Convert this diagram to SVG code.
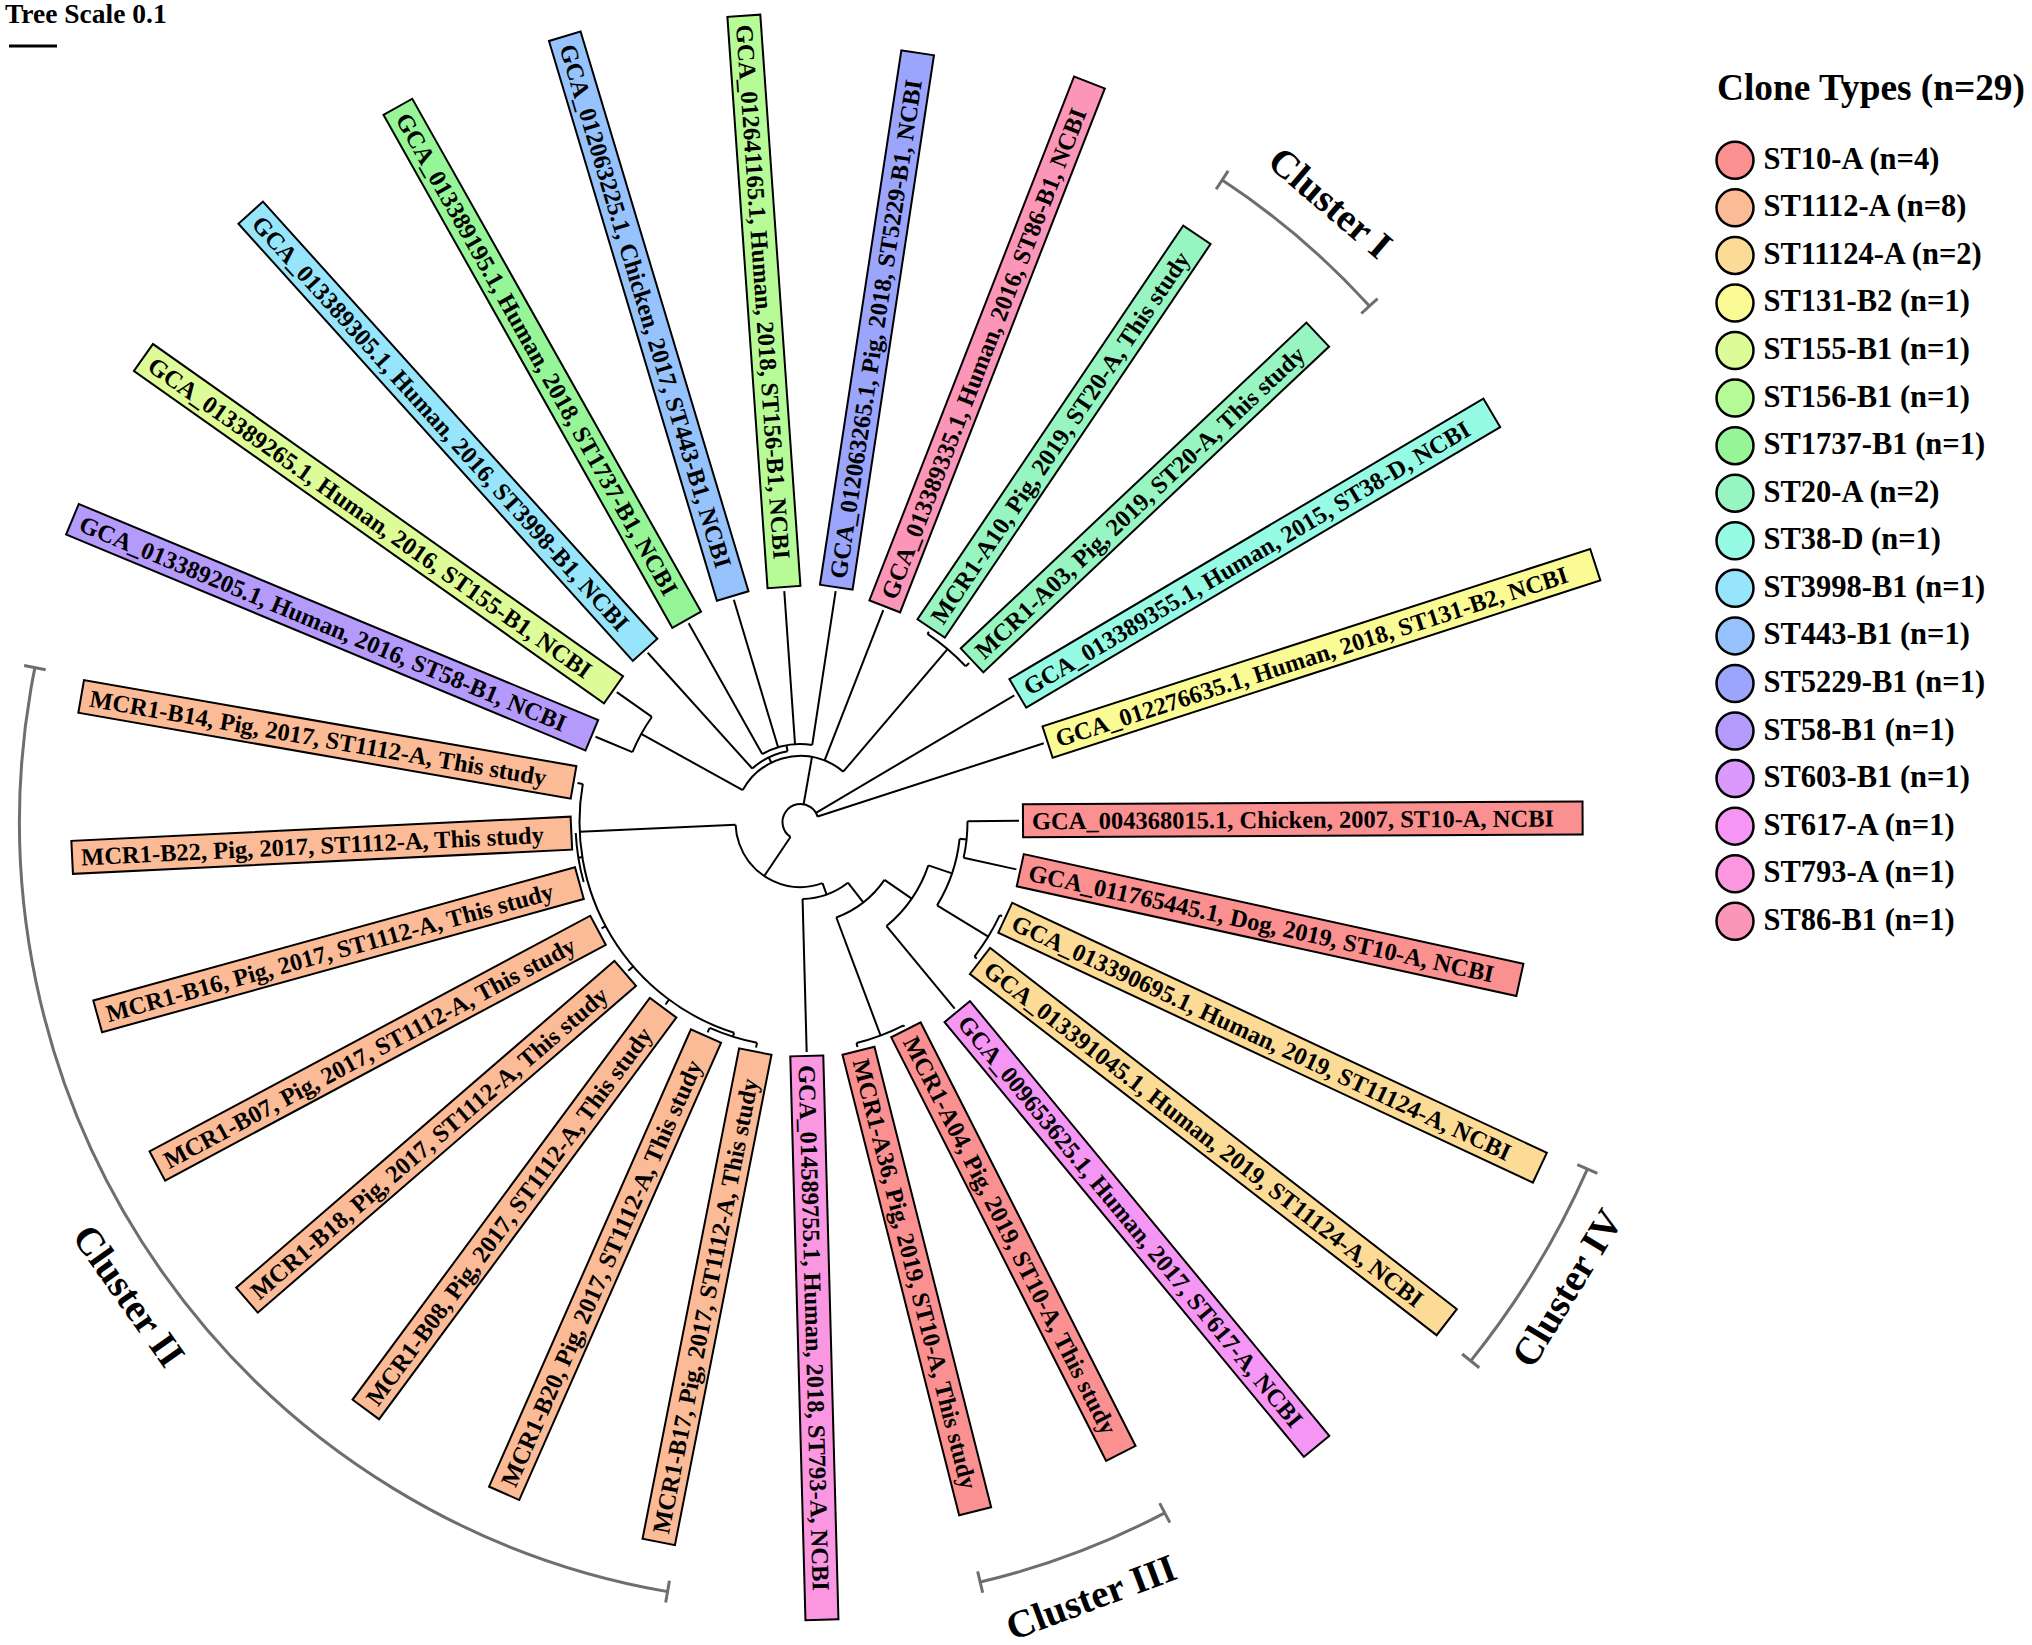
<svg xmlns="http://www.w3.org/2000/svg" width="2032" height="1645" viewBox="0 0 2032 1645">
<style>
.tl{stroke:#000;stroke-width:2;fill:none}
.box{stroke:#000;stroke-width:2}
.lbl{font-family:"Liberation Serif","Times New Roman",serif;font-weight:bold;font-size:24.5px;fill:#000}
.br{stroke:#6e6e6e;stroke-width:3;fill:none}
.cl{font-family:"Liberation Serif","Times New Roman",serif;font-weight:bold;font-size:39px;fill:#000;text-anchor:middle}
.lg{font-family:"Liberation Serif","Times New Roman",serif;font-weight:bold;font-size:30.5px;fill:#000}
.lt{font-family:"Liberation Serif","Times New Roman",serif;font-weight:bold;font-size:37.3px;fill:#000}
.lc{stroke:#000;stroke-width:2.5}
.c10{fill:#FA9090}.c1112{fill:#FBBB96}.c11124{fill:#FCDB96}.c131{fill:#FBFB96}.c155{fill:#DDFB96}.c156{fill:#B7FB96}.c1737{fill:#96F596}.c20{fill:#96F5C0}.c38{fill:#96FBE5}.c3998{fill:#96E5FB}.c443{fill:#96C3FB}.c5229{fill:#9AA5FB}.c58{fill:#B49AFB}.c603{fill:#D99AFB}.c617{fill:#F596F5}.c793{fill:#FB96E0}.c86{fill:#FB96B8}
</style>
<rect width="2032" height="1645" fill="#fff"/>
<g id="scale">
<text x="5" y="23" style="font-family:'Liberation Serif',serif;font-weight:bold;font-size:27.5px">Tree Scale 0.1</text>
<line x1="9" y1="46" x2="57" y2="46" stroke="#000" stroke-width="3"/>
</g>
<g id="connectors" class="tl" transform="translate(800.5,822)">
<circle r="18" transform="rotate(123.9)" stroke-dasharray="68.54 9999"/>
<circle r="65" transform="rotate(70.23)" stroke-dasharray="121.69 9999"/>
<circle r="77" transform="rotate(52)" stroke-dasharray="49.0 9999"/>
<circle r="102" transform="rotate(34.57)" stroke-dasharray="62.08 9999"/>
<circle r="135" transform="rotate(18.72)" stroke-dasharray="74.69 9999"/>
<circle r="160" transform="rotate(6.04)" stroke-dasharray="70.82 9999"/>
<circle r="167" transform="rotate(-0.3)" stroke-dasharray="36.96 9999"/>
<circle r="220" transform="rotate(25.06)" stroke-dasharray="48.69 9999"/>
<circle r="228" transform="rotate(63.1)" stroke-dasharray="50.46 9999"/>
<circle r="221" transform="rotate(107.48)" stroke-dasharray="317.91 9999"/>
<circle r="225" transform="rotate(164.54)" stroke-dasharray="49.79 9999"/>
<circle r="225" transform="rotate(101.14)" stroke-dasharray="49.79 9999"/>
<circle r="66" transform="rotate(208.92)" stroke-dasharray="116.85 9999"/>
<circle r="182" transform="rotate(202.58)" stroke-dasharray="40.28 9999"/>
<circle r="72" transform="rotate(227.94)" stroke-dasharray="39.84 9999"/>
<circle r="78" transform="rotate(240.62)" stroke-dasharray="51.79 9999"/>
<circle r="227" transform="rotate(304.02)" stroke-dasharray="50.24 9999"/>
<line x1="18" x2="65" transform="rotate(123.9)"/>
<line x1="18" x2="66" transform="rotate(280)"/>
<line x1="18" x2="248.5" transform="rotate(329.38)"/>
<line x1="18" x2="255.7" transform="rotate(342.06)"/>
<line x1="65" x2="77" transform="rotate(70.23)"/>
<line x1="65" x2="221" transform="rotate(177.5)"/>
<line x1="77" x2="230" transform="rotate(88.46)"/>
<line x1="77" x2="102" transform="rotate(52)"/>
<line x1="102" x2="228" transform="rotate(69.44)"/>
<line x1="228" x2="229.5" transform="rotate(63.1)"/>
<line x1="228" x2="232" transform="rotate(75.78)"/>
<line x1="102" x2="135" transform="rotate(34.57)"/>
<line x1="135" x2="242" transform="rotate(50.42)"/>
<line x1="135" x2="160" transform="rotate(18.72)"/>
<line x1="160" x2="167" transform="rotate(6.04)"/>
<line x1="160" x2="220" transform="rotate(31.4)"/>
<line x1="167" x2="218.5" transform="rotate(-0.3)"/>
<line x1="167" x2="221" transform="rotate(12.38)"/>
<line x1="220" x2="222.5" transform="rotate(25.06)"/>
<line x1="220" x2="223" transform="rotate(37.74)"/>
<line x1="221" x2="225" transform="rotate(170.88)"/>
<line x1="221" x2="225" transform="rotate(107.48)"/>
<line x1="225" x2="230" transform="rotate(101.14)"/>
<line x1="225" x2="230" transform="rotate(113.82)"/>
<line x1="221" x2="227" transform="rotate(126.5)"/>
<line x1="221" x2="227.6" transform="rotate(139.18)"/>
<line x1="221" x2="225.6" transform="rotate(151.86)"/>
<line x1="221" x2="226.4" transform="rotate(189.9)"/>
<line x1="66" x2="182" transform="rotate(208.92)"/>
<line x1="182" x2="222" transform="rotate(202.58)"/>
<line x1="182" x2="225" transform="rotate(215.26)"/>
<line x1="66" x2="72" transform="rotate(243.79)"/>
<line x1="72" x2="228" transform="rotate(227.94)"/>
<line x1="72" x2="78" transform="rotate(259.64)"/>
<line x1="78" x2="228" transform="rotate(240.62)"/>
<line x1="78" x2="232" transform="rotate(253.3)"/>
<line x1="78" x2="231.5" transform="rotate(265.98)"/>
<line x1="78" x2="233.5" transform="rotate(278.66)"/>
<line x1="66" x2="227.5" transform="rotate(291.34)"/>
<line x1="66" x2="227" transform="rotate(310.36)"/>
<line x1="227" x2="229.5" transform="rotate(304.02)"/>
<line x1="227" x2="231.7" transform="rotate(316.7)"/>
</g>
<g id="leaf01" transform="translate(800.5,822) rotate(-0.3)"><rect class="box c10" x="222.5" y="-16.5" width="559.6" height="33"/><text class="lbl" x="231.5" y="8.5">GCA_004368015.1, Chicken, 2007, ST10-A, NCBI</text></g>
<g id="leaf02" transform="translate(800.5,822) rotate(12.38)"><rect class="box c10" x="225" y="-16.5" width="511.5" height="33"/><text class="lbl" x="234" y="8.5">GCA_011765445.1, Dog, 2019, ST10-A, NCBI</text></g>
<g id="leaf03" transform="translate(800.5,822) rotate(25.06)"><rect class="box c11124" x="226" y="-16.5" width="590.2" height="33"/><text class="lbl" x="235" y="8.5">GCA_013390695.1, Human, 2019, ST11124-A, NCBI</text></g>
<g id="leaf04" transform="translate(800.5,822) rotate(37.74)"><rect class="box c11124" x="227" y="-16.5" width="590.2" height="33"/><text class="lbl" x="236" y="8.5">GCA_013391045.1, Human, 2019, ST11124-A, NCBI</text></g>
<g id="leaf05" transform="translate(800.5,822) rotate(50.42)"><rect class="box c617" x="246" y="-16.5" width="564" height="33"/><text class="lbl" x="255" y="8.5">GCA_009653625.1, Human, 2017, ST617-A, NCBI</text></g>
<g id="leaf06" transform="translate(800.5,822) rotate(63.1)"><rect class="box c10" x="233" y="-16.5" width="475" height="33"/><text class="lbl" x="242" y="8.5">MCR1-A04, Pig, 2019, ST10-A, This study</text></g>
<g id="leaf07" transform="translate(800.5,822) rotate(75.78)"><rect class="box c10" x="236" y="-16.5" width="475" height="33"/><text class="lbl" x="245" y="8.5">MCR1-A36, Pig, 2019, ST10-A, This study</text></g>
<g id="leaf08" transform="translate(800.5,822) rotate(88.46)"><rect class="box c793" x="234" y="-16.5" width="564" height="33"/><text class="lbl" x="243" y="8.5">GCA_014589755.1, Human, 2018, ST793-A, NCBI</text></g>
<g id="leaf09" transform="translate(800.5,822) rotate(281.14)"><rect class="box c1112" x="-733.8" y="-16.5" width="499.8" height="33"/><text class="lbl" x="-724.8" y="8.5">MCR1-B17, Pig, 2017, ST1112-A, This study</text></g>
<g id="leaf10" transform="translate(800.5,822) rotate(293.82)"><rect class="box c1112" x="-733.8" y="-16.5" width="499.8" height="33"/><text class="lbl" x="-724.8" y="8.5">MCR1-B20, Pig, 2017, ST1112-A, This study</text></g>
<g id="leaf11" transform="translate(800.5,822) rotate(306.5)"><rect class="box c1112" x="-730.8" y="-16.5" width="499.8" height="33"/><text class="lbl" x="-721.8" y="8.5">MCR1-B08, Pig, 2017, ST1112-A, This study</text></g>
<g id="leaf12" transform="translate(800.5,822) rotate(319.18)"><rect class="box c1112" x="-731.4" y="-16.5" width="499.8" height="33"/><text class="lbl" x="-722.4" y="8.5">MCR1-B18, Pig, 2017, ST1112-A, This study</text></g>
<g id="leaf13" transform="translate(800.5,822) rotate(331.86)"><rect class="box c1112" x="-729.4" y="-16.5" width="499.8" height="33"/><text class="lbl" x="-720.4" y="8.5">MCR1-B07, Pig, 2017, ST1112-A, This study</text></g>
<g id="leaf14" transform="translate(800.5,822) rotate(344.54)"><rect class="box c1112" x="-729.2" y="-16.5" width="499.8" height="33"/><text class="lbl" x="-720.2" y="8.5">MCR1-B16, Pig, 2017, ST1112-A, This study</text></g>
<g id="leaf15" transform="translate(800.5,822) rotate(357.22)"><rect class="box c1112" x="-729.2" y="-16.5" width="499.8" height="33"/><text class="lbl" x="-720.2" y="8.5">MCR1-B22, Pig, 2017, ST1112-A, This study</text></g>
<g id="leaf16" transform="translate(800.5,822) rotate(9.9)"><rect class="box c1112" x="-730.2" y="-16.5" width="499.8" height="33"/><text class="lbl" x="-721.2" y="8.5">MCR1-B14, Pig, 2017, ST1112-A, This study</text></g>
<g id="leaf17" transform="translate(800.5,822) rotate(22.58)"><rect class="box c58" x="-788.5" y="-16.5" width="562.5" height="33"/><text class="lbl" x="-779.5" y="8.5">GCA_013389205.1, Human, 2016, ST58-B1, NCBI</text></g>
<g id="leaf18" transform="translate(800.5,822) rotate(35.26)"><rect class="box c155" x="-804.7" y="-16.5" width="575.7" height="33"/><text class="lbl" x="-795.7" y="8.5">GCA_013389265.1, Human, 2016, ST155-B1, NCBI</text></g>
<g id="leaf19" transform="translate(800.5,822) rotate(47.94)"><rect class="box c3998" x="-820.7" y="-16.5" width="588.7" height="33"/><text class="lbl" x="-811.7" y="8.5">GCA_013389305.1, Human, 2016, ST3998-B1, NCBI</text></g>
<g id="leaf20" transform="translate(800.5,822) rotate(60.62)"><rect class="box c1737" x="-820.7" y="-16.5" width="588.7" height="33"/><text class="lbl" x="-811.7" y="8.5">GCA_013389195.1, Human, 2018, ST1737-B1, NCBI</text></g>
<g id="leaf21" transform="translate(800.5,822) rotate(73.3)"><rect class="box c443" x="-820.3" y="-16.5" width="584.3" height="33"/><text class="lbl" x="-811.3" y="8.5">GCA_012063225.1, Chicken, 2017, ST443-B1, NCBI</text></g>
<g id="leaf22" transform="translate(800.5,822) rotate(85.98)"><rect class="box c156" x="-808.2" y="-16.5" width="572.7" height="33"/><text class="lbl" x="-799.2" y="8.5">GCA_012641165.1, Human, 2018, ST156-B1, NCBI</text></g>
<g id="leaf23" transform="translate(800.5,822) rotate(-81.34)"><rect class="box c5229" x="237.5" y="-16.5" width="540.6" height="33"/><text class="lbl" x="246.5" y="8.5">GCA_012063265.1, Pig, 2018, ST5229-B1, NCBI</text></g>
<g id="leaf24" transform="translate(800.5,822) rotate(-68.66)"><rect class="box c86" x="231.5" y="-16.5" width="562.5" height="33"/><text class="lbl" x="240.5" y="8.5">GCA_013389335.1, Human, 2016, ST86-B1, NCBI</text></g>
<g id="leaf25" transform="translate(800.5,822) rotate(-55.98)"><rect class="box c20" x="233.5" y="-16.5" width="475" height="33"/><text class="lbl" x="242.5" y="8.5">MCR1-A10, Pig, 2019, ST20-A, This study</text></g>
<g id="leaf26" transform="translate(800.5,822) rotate(-43.3)"><rect class="box c20" x="235.7" y="-16.5" width="475" height="33"/><text class="lbl" x="244.7" y="8.5">MCR1-A03, Pig, 2019, ST20-A, This study</text></g>
<g id="leaf27" transform="translate(800.5,822) rotate(-30.62)"><rect class="box c38" x="252.5" y="-16.5" width="550.8" height="33"/><text class="lbl" x="261.5" y="8.5">GCA_013389355.1, Human, 2015, ST38-D, NCBI</text></g>
<g id="leaf28" transform="translate(800.5,822) rotate(-17.94)"><rect class="box c131" x="259.7" y="-16.5" width="575.7" height="33"/><text class="lbl" x="268.7" y="8.5">GCA_012276635.1, Human, 2018, ST131-B2, NCBI</text></g>
<g id="clusters">
<g id="bracket1" class="br" transform="translate(800.5,822)"><circle r="768" transform="rotate(303.3)" stroke-dasharray="194.36 9999"/><line x1="757" x2="779" transform="rotate(303.3)"/><line x1="757" x2="779" transform="rotate(317.8)"/></g>
<g id="bracket2" class="br" transform="translate(800.5,822)"><circle r="781" transform="rotate(99.8)" stroke-dasharray="1248.6 9999"/><line x1="770" x2="792" transform="rotate(99.8)"/><line x1="770" x2="792" transform="rotate(191.4)"/></g>
<g id="bracket3" class="br" transform="translate(800.5,822)"><circle r="781" transform="rotate(62.2)" stroke-dasharray="197.65 9999"/><line x1="770" x2="792" transform="rotate(62.2)"/><line x1="770" x2="792" transform="rotate(76.7)"/></g>
<g id="bracket4" class="br" transform="translate(800.5,822)"><circle r="860" transform="rotate(23.8)" stroke-dasharray="225.15 9999"/><line x1="849" x2="871" transform="rotate(23.8)"/><line x1="849" x2="871" transform="rotate(38.8)"/></g>
<text class="cl" transform="translate(1321.9,212.6) rotate(40.55)">Cluster I</text>
<text class="cl" transform="translate(118.2,1303.3) rotate(54.8)">Cluster II</text>
<text class="cl" transform="translate(1095.7,1609.5) rotate(-20.55)">Cluster III</text>
<text class="cl" transform="translate(1578.1,1294.8) rotate(-58.7)">Cluster IV</text>
</g>
<g id="legend">
<text class="lt" x="1717" y="100">Clone Types (n=29)</text>
<g id="lg01"><circle class="lc c10" cx="1735" cy="160.3" r="18.5"/><text class="lg" x="1763.5" y="168.8">ST10-A (n=4)</text></g>
<g id="lg02"><circle class="lc c1112" cx="1735" cy="207.86" r="18.5"/><text class="lg" x="1763.5" y="216.36">ST1112-A (n=8)</text></g>
<g id="lg03"><circle class="lc c11124" cx="1735" cy="255.42" r="18.5"/><text class="lg" x="1763.5" y="263.92">ST11124-A (n=2)</text></g>
<g id="lg04"><circle class="lc c131" cx="1735" cy="302.98" r="18.5"/><text class="lg" x="1763.5" y="311.48">ST131-B2 (n=1)</text></g>
<g id="lg05"><circle class="lc c155" cx="1735" cy="350.54" r="18.5"/><text class="lg" x="1763.5" y="359.04">ST155-B1 (n=1)</text></g>
<g id="lg06"><circle class="lc c156" cx="1735" cy="398.1" r="18.5"/><text class="lg" x="1763.5" y="406.6">ST156-B1 (n=1)</text></g>
<g id="lg07"><circle class="lc c1737" cx="1735" cy="445.66" r="18.5"/><text class="lg" x="1763.5" y="454.16">ST1737-B1 (n=1)</text></g>
<g id="lg08"><circle class="lc c20" cx="1735" cy="493.22" r="18.5"/><text class="lg" x="1763.5" y="501.72">ST20-A (n=2)</text></g>
<g id="lg09"><circle class="lc c38" cx="1735" cy="540.78" r="18.5"/><text class="lg" x="1763.5" y="549.28">ST38-D (n=1)</text></g>
<g id="lg10"><circle class="lc c3998" cx="1735" cy="588.34" r="18.5"/><text class="lg" x="1763.5" y="596.84">ST3998-B1 (n=1)</text></g>
<g id="lg11"><circle class="lc c443" cx="1735" cy="635.9" r="18.5"/><text class="lg" x="1763.5" y="644.4">ST443-B1 (n=1)</text></g>
<g id="lg12"><circle class="lc c5229" cx="1735" cy="683.46" r="18.5"/><text class="lg" x="1763.5" y="691.96">ST5229-B1 (n=1)</text></g>
<g id="lg13"><circle class="lc c58" cx="1735" cy="731.02" r="18.5"/><text class="lg" x="1763.5" y="739.52">ST58-B1 (n=1)</text></g>
<g id="lg14"><circle class="lc c603" cx="1735" cy="778.58" r="18.5"/><text class="lg" x="1763.5" y="787.08">ST603-B1 (n=1)</text></g>
<g id="lg15"><circle class="lc c617" cx="1735" cy="826.14" r="18.5"/><text class="lg" x="1763.5" y="834.64">ST617-A (n=1)</text></g>
<g id="lg16"><circle class="lc c793" cx="1735" cy="873.7" r="18.5"/><text class="lg" x="1763.5" y="882.2">ST793-A (n=1)</text></g>
<g id="lg17"><circle class="lc c86" cx="1735" cy="921.26" r="18.5"/><text class="lg" x="1763.5" y="929.76">ST86-B1 (n=1)</text></g>
</g>
</svg>
